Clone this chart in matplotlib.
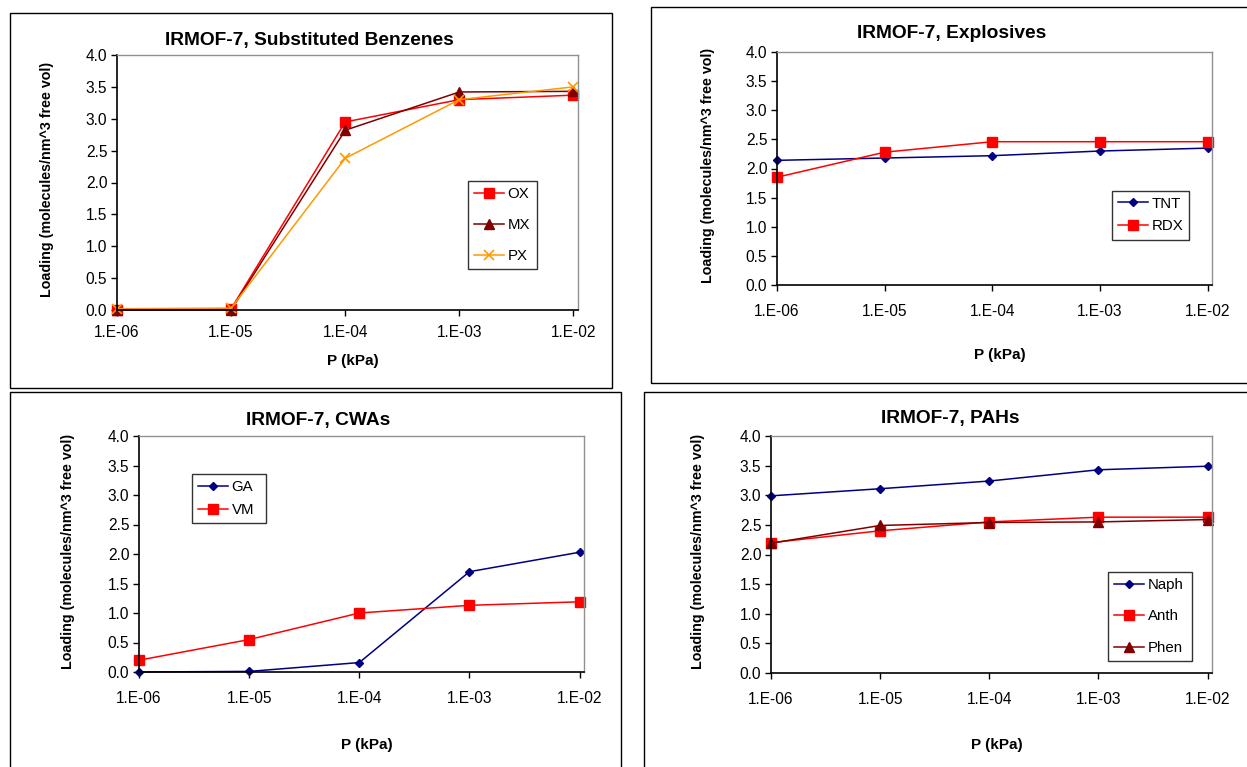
import matplotlib
matplotlib.use("Agg")
import matplotlib.pyplot as plt
from matplotlib.patches import Rectangle

plt.rcParams['font.family'] = ['Liberation Sans', 'DejaVu Sans']

W, H = 1247, 767
pressure = [1e-6, 1e-5, 1e-4, 1e-3, 1e-2]
xtick_labels = ["1.E-06", "1.E-05", "1.E-04", "1.E-03", "1.E-02"]
yticks = [0.0, 0.5, 1.0, 1.5, 2.0, 2.5, 3.0, 3.5, 4.0]

# Substituted benzenes
ox = [0.00, 0.02, 2.95, 3.30, 3.37]
mx = [0.00, 0.00, 2.82, 3.42, 3.43]
px = [0.02, 0.03, 2.38, 3.30, 3.50]
# Explosives
tnt = [2.14, 2.18, 2.22, 2.30, 2.35]
rdx = [1.85, 2.28, 2.46, 2.46, 2.46]
# CWAs
ga = [0.00, 0.01, 0.16, 1.70, 2.03]
vm = [0.20, 0.55, 1.00, 1.13, 1.19]
# PAHs
naph = [2.99, 3.11, 3.24, 3.43, 3.49]
anth = [2.20, 2.40, 2.55, 2.63, 2.63]
phen = [2.19, 2.49, 2.54, 2.55, 2.59]

RED = "#FF0000"
DRED = "#800000"
ORANGE = "#FF9900"
NAVY = "#000080"

STY = {
    "OX": dict(color=RED, marker="s", ms=7),
    "MX": dict(color=DRED, marker="^", ms=6.5),
    "PX": dict(color=ORANGE, marker="x", ms=7, mew=1.2),
    "TNT": dict(color=NAVY, marker="D", ms=4.5),
    "RDX": dict(color=RED, marker="s", ms=7),
    "GA": dict(color=NAVY, marker="D", ms=4.5),
    "VM": dict(color=RED, marker="s", ms=7),
    "Naph": dict(color=NAVY, marker="D", ms=4.5),
    "Anth": dict(color=RED, marker="s", ms=7),
    "Phen": dict(color=DRED, marker="^", ms=6.5),
}

fig = plt.figure(figsize=(W / 100, H / 100), dpi=100)


def fbox(x0, y0, x1, y1):
    return [x0 / W, 1 - y1 / H, (x1 - x0) / W, (y1 - y0) / H]


def frame(x0, y0, x1, y1):
    fig.patches.append(Rectangle((x0 / W, 1 - y1 / H), (x1 - x0) / W, (y1 - y0) / H,
                                 transform=fig.transFigure, fill=False,
                                 edgecolor="black", lw=1.0))


def panel(box, title, title_xy, series, leg_box, ylab_x, xlab_y, xpad):
    x0, y0, x1, y1 = box
    ax = fig.add_axes(fbox(x0, y0, x1, y1))
    for name, vals in series:
        st = STY[name]
        ax.plot(pressure, vals, label=name, color=st["color"], marker=st["marker"],
                markersize=st["ms"], mew=st.get("mew", 1.0), lw=1.1,
                markeredgecolor=st["color"], clip_on=False)
    ax.set_xscale("log")
    ax.set_xlim(1e-6, 1e-2 * 10 ** 0.04)
    ax.set_ylim(0, 4.0)
    ax.set_xticks(pressure)
    ax.set_xticklabels(xtick_labels)
    ax.minorticks_off()
    ax.set_yticks(yticks)
    ax.set_yticklabels([f"{v:.1f}" for v in yticks])
    ax.tick_params(axis="both", labelsize=11.2, direction="out", length=4, width=1,
                   colors="black")
    ax.tick_params(axis="x", pad=xpad)
    ax.tick_params(axis="y", pad=3)
    for s in ["top", "right"]:
        ax.spines[s].set_color("#909090")
        ax.spines[s].set_linewidth(1.0)
    for s in ["left", "bottom"]:
        ax.spines[s].set_color("black")
        ax.spines[s].set_linewidth(1.2)
    fig.text(title_xy[0] / W, 1 - title_xy[1] / H, title, ha="center", va="center",
             fontsize=13.8, fontweight="bold")
    fig.text(ylab_x / W, 1 - ((y0 + y1) / 2 - 3) / H,
             "Loading (molecules/nm^3 free vol)", rotation=90, ha="center",
             va="center", fontsize=10.3, fontweight="bold")
    fig.text(((x0 + x1) / 2 + 5) / W, 1 - xlab_y / H, "P (kPa)", ha="center",
             va="center", fontsize=11, fontweight="bold")
    lx0, ly0, lx1, ly1 = leg_box
    leg = ax.legend(loc="center", bbox_to_anchor=fbox(lx0, ly0, lx1, ly1),
                    bbox_transform=fig.transFigure, mode="expand", fontsize=10.8,
                    frameon=True, fancybox=False, handlelength=2.0,
                    borderpad=0.4, labelspacing=1.15 if len(series) == 3 else 0.6,
                    handletextpad=0.25, borderaxespad=0)
    leg.get_frame().set_edgecolor("black")
    leg.get_frame().set_linewidth(1.0)
    return ax


# frames
frame(10, 13, 612, 388)
frame(651, 7, 1252, 383)
frame(10, 392, 621, 775)
frame(644, 392, 1252, 775)

panel((117, 55, 578, 310), "IRMOF-7, Substituted Benzenes", (309, 40),
      [("OX", ox), ("MX", mx), ("PX", px)], (468, 173, 537, 277), 47, 361, 7)
panel((777, 52, 1212, 285), "IRMOF-7, Explosives", (952, 34),
      [("TNT", tnt), ("RDX", rdx)], (1112, 189, 1189, 241), 708, 355, 10)
panel((139, 436, 584, 672), "IRMOF-7, CWAs", (318, 420),
      [("GA", ga), ("VM", vm)], (192, 472, 266, 525), 68, 745, 10)
panel((771, 436, 1212, 673), "IRMOF-7, PAHs", (950, 419),
      [("Naph", naph), ("Anth", anth), ("Phen", phen)], (1108, 577, 1192, 656), 698, 745, 10)

fig.savefig("out.png", dpi=100, facecolor="white")
